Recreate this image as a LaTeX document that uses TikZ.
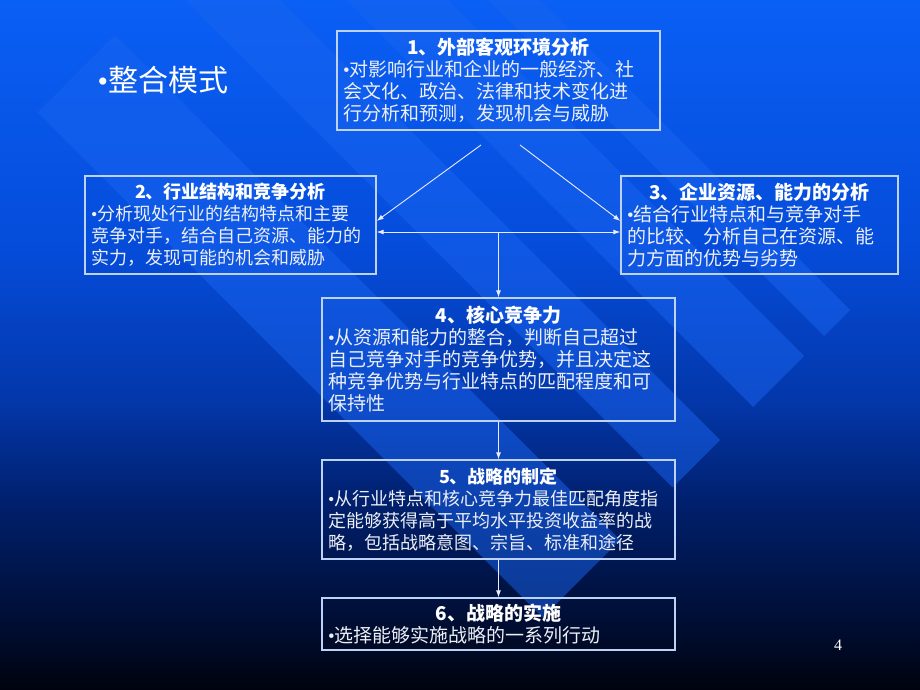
\documentclass[tikz,border=0pt]{standalone}
\usepackage{fontspec}
\setmainfont{Noto Sans CJK SC}
\newfontfamily\numfont{Liberation Serif}
\usetikzlibrary{arrows.meta}

\definecolor{bgtop}{RGB}{10,95,245}
\definecolor{bgupper}{RGB}{5,76,218}
\definecolor{bgmid}{RGB}{3,55,170}
\definecolor{bglow}{RGB}{0,30,105}
\definecolor{bgdeep}{RGB}{0,12,45}
\definecolor{bgbottom}{RGB}{0,3,14}
\definecolor{bandblue}{RGB}{25,100,240}
\definecolor{boxline}{RGB}{190,210,245}
\definecolor{bodytext}{RGB}{236,239,246}

\pgfdeclareverticalshading{slidebg}{100bp}{color(0bp)=(bgbottom); color(25bp)=(bgbottom);
  color(29bp)=(bgdeep); color(38bp)=(bglow); color(46bp)=(bgmid); color(57bp)=(bgupper);
  color(75bp)=(bgtop); color(100bp)=(bgtop)}

\tikzset{
  box/.style={draw=boxline, line width=1.3pt, inner xsep=6pt, inner ysep=2pt,
    align=left, text=bodytext},
  link/.style={draw=white!92!blue, line width=0.9pt, -{Latex[length=7pt,width=5pt]}},
}
\newcommand{\boxhead}[1]{{\centering\bfseries\color{white}#1\par}}
\newcommand{\dotmark}{{\numfont\textbullet}}

\begin{document}
\begin{tikzpicture}[x=1pt,y=-1pt]
\useasboundingbox (0,0) rectangle (920,690);
\shade[shading=slidebg] (0,0) rectangle (920,690);

% light diagonal bands of the slide background
\begin{scope}
\clip (0,0) rectangle (920,690);
\foreach \va/\vb in {-75/80, 185/280, 346/448, 488/540}
  \fill[bandblue, opacity=.5] ({(150+\va)/2},{(150-\va)/2}) -- ({(150+\vb)/2},{(150-\vb)/2})
    -- ({(1160+\vb)/2},{(1160-\vb)/2}) -- ({(1160+\va)/2},{(1160-\va)/2}) -- cycle;
\end{scope}

\node[anchor=west, text=white, font=\fontsize{30pt}{32pt}\selectfont] (title) at (94,80) {\dotmark 整合模式};

\node[box, text width=311pt, minimum height=99pt, font=\fontsize{19pt}{22pt}\selectfont] (b1) at (498.5,80.5)
  {\boxhead{1、外部客观环境分析}\dotmark 对影响行业和企业的一般经济、社\\会文化、政治、法律和技术变化进\\行分析和预测，发现机会与威胁};
\node[box, text width=279pt, minimum height=98pt, font=\fontsize{18pt}{22pt}\selectfont] (b2) at (230.5,225)
  {\boxhead{2、行业结构和竞争分析}\dotmark 分析现处行业的结构特点和主要\\竞争对手，结合自己资源、能力的\\实力，发现可能的机会和威胁};
\node[box, text width=265pt, minimum height=98pt, font=\fontsize{19pt}{22pt}\selectfont] (b3) at (759.5,225)
  {\boxhead{3、企业资源、能力的分析}\dotmark 结合行业特点和与竞争对手\\的比较、分析自己在资源、能\\力方面的优势与劣势};
\node[box, text width=341pt, minimum height=123pt, font=\fontsize{19pt}{22pt}\selectfont] (b4) at (498.5,359.5)
  {\boxhead{4、核心竞争力}\dotmark 从资源和能力的整合，判断自己超过\\自己竞争对手的竞争优势，并且决定这\\种竞争优势与行业特点的匹配程度和可\\保持性};
\node[box, text width=341pt, minimum height=99pt, font=\fontsize{18pt}{22pt}\selectfont] (b5) at (498.5,509.5)
  {\boxhead{5、战略的制定}\dotmark 从行业特点和核心竞争力最佳匹配角度指\\定能够获得高于平均水平投资收益率的战\\略，包括战略意图、宗旨、标准和途径};
\node[box, text width=341pt, minimum height=52pt, font=\fontsize{19pt}{22pt}\selectfont] (b6) at (498.5,624)
  {\boxhead{6、战略的实施}\dotmark 选择能够实施战略的一系列行动};

\node[text=white, font=\numfont\fontsize{16pt}{18pt}\selectfont] (pnum) at (838,645) {4};

\coordinate (d1) at (481,145);
\coordinate (d2) at (520,145);
\coordinate (hm) at (498.5,232);
\draw[link] (d1) -- ([yshift=4pt]b2.east);
\draw[link] (d2) -- ([yshift=4pt]b3.west);
\draw[link, {Latex[length=7pt,width=5pt]}-{Latex[length=7pt,width=5pt]}] ([yshift=-7pt]b2.east) -- ([yshift=-7pt]b3.west);
\draw[link] (hm) -- (b4.north);
\draw[link] (b4) -- (b5);
\draw[link] (b5) -- (b6);
\end{tikzpicture}
\end{document}
